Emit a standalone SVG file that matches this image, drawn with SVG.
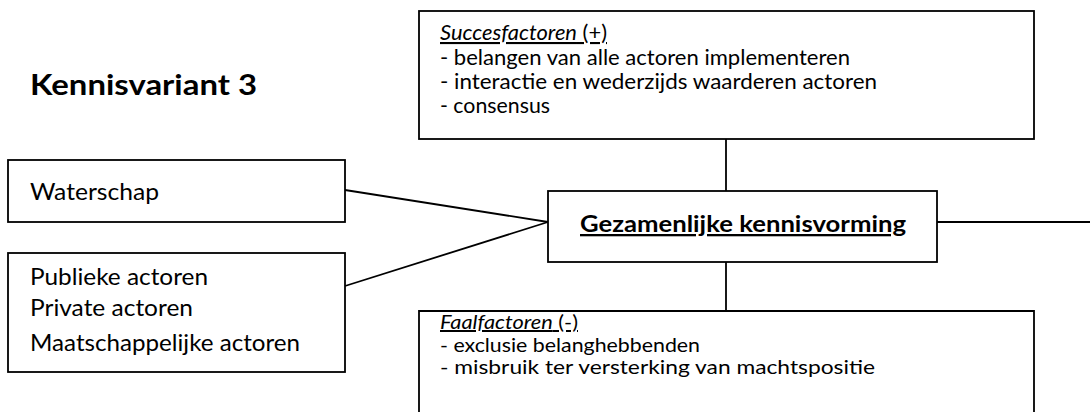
<svg xmlns="http://www.w3.org/2000/svg" width="1090" height="412" viewBox="0 0 1090 412">
  <style>
    .box { fill: #ffffff; stroke: #000000; stroke-width: 1.8; }
    .edge { fill: none; stroke: #000000; stroke-width: 1.8; }
    text { font-family: Lato, "Liberation Sans", sans-serif; fill: #000000; }
    .t { font-size: 21px; }
    .b { font-size: 20px; }
    .l { font-size: 23px; }
    .title { font-size: 28px; font-weight: bold; }
    .main { font-size: 23px; font-weight: bold; text-decoration: underline; }
    .hdr { text-decoration: underline; }
  </style>
  <rect width="1090" height="412" fill="#ffffff"/>

  <text id="title" class="title" x="30" y="95" textLength="227" lengthAdjust="spacingAndGlyphs">Kennisvariant 3</text>

  <!-- connectors -->
  <g id="connectors">
    <line class="edge" x1="345" y1="190" x2="548" y2="222"/>
    <line class="edge" x1="345" y1="286" x2="548" y2="222"/>
    <line class="edge" x1="726" y1="139" x2="726" y2="191"/>
    <line class="edge" x1="726" y1="262" x2="726" y2="311"/>
    <line class="edge" x1="937" y1="222" x2="1090" y2="222"/>
  </g>

  <g id="succesfactoren">
    <rect class="box" x="419" y="11" width="615" height="128"/>
    <text class="t hdr" x="440" y="40" textLength="167" lengthAdjust="spacingAndGlyphs"><tspan font-style="italic">Succesfactoren</tspan> (+)</text>
    <text class="t" x="440" y="65" textLength="410" lengthAdjust="spacingAndGlyphs">- belangen van alle actoren implementeren</text>
    <text class="t" x="440" y="89" textLength="437" lengthAdjust="spacingAndGlyphs">- interactie en wederzijds waarderen actoren</text>
    <text class="t" x="440" y="113" textLength="110" lengthAdjust="spacingAndGlyphs">- consensus</text>
  </g>

  <g id="waterschap">
    <rect class="box" x="8" y="160" width="337" height="62"/>
    <text class="l" x="30" y="200" textLength="129" lengthAdjust="spacingAndGlyphs">Waterschap</text>
  </g>

  <g id="actoren">
    <rect class="box" x="8" y="253" width="337" height="119"/>
    <text class="l" x="30" y="285" textLength="178" lengthAdjust="spacingAndGlyphs">Publieke actoren</text>
    <text class="l" x="30" y="316" textLength="163" lengthAdjust="spacingAndGlyphs">Private actoren</text>
    <text class="l" x="30" y="351" textLength="270" lengthAdjust="spacingAndGlyphs">Maatschappelijke actoren</text>
  </g>

  <g id="kennisvorming">
    <rect class="box" x="548" y="191" width="389" height="71"/>
    <text class="main" x="580" y="232" textLength="326" lengthAdjust="spacingAndGlyphs">Gezamenlijke kennisvorming</text>
  </g>

  <g id="faalfactoren">
    <path class="edge" d="M419,413 V311 H1034 V413"/>
    <text class="b hdr" x="440" y="329" textLength="138" lengthAdjust="spacingAndGlyphs"><tspan font-style="italic">Faalfactoren</tspan> (-)</text>
    <text class="b" x="440" y="352" textLength="260" lengthAdjust="spacingAndGlyphs">- exclusie belanghebbenden</text>
    <text class="b" x="440" y="374" textLength="435" lengthAdjust="spacingAndGlyphs">- misbruik ter versterking van machtspositie</text>
  </g>
</svg>
